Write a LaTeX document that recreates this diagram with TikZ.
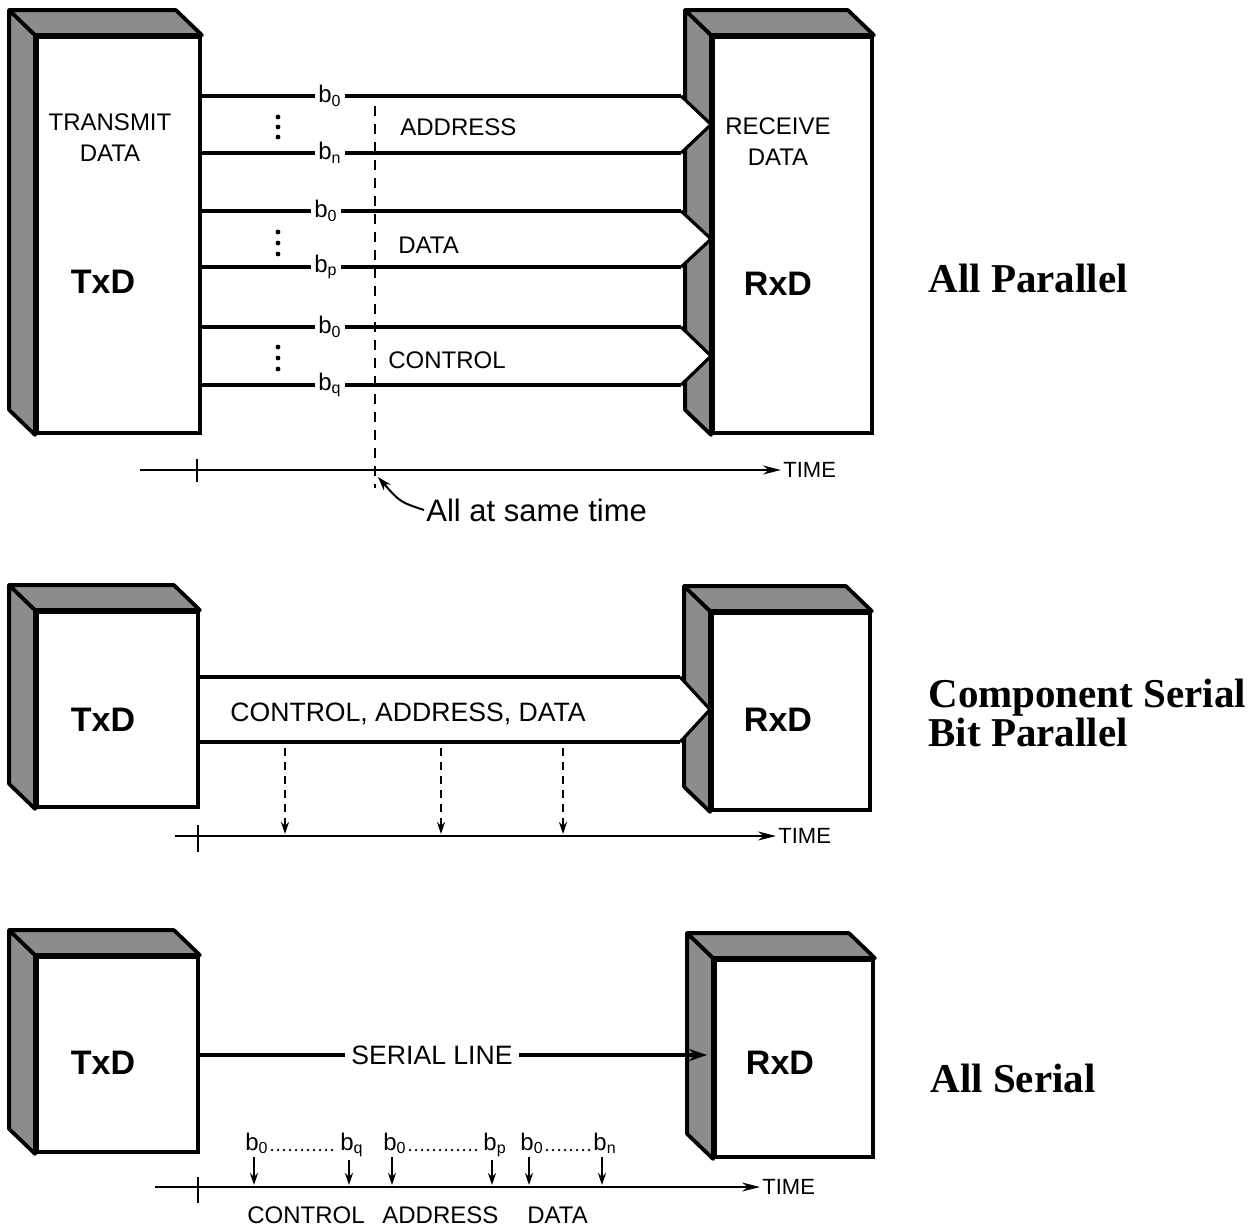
\documentclass[tikz,border=0pt]{standalone}
\usepackage{fontspec}
\setmainfont{Liberation Serif}
\setsansfont{Liberation Sans}
\usetikzlibrary{calc,arrows.meta}
\newcommand\threedfaces[1]{%
  \filldraw[face3d] ($(#1.north west)+(-26,-25)$) -- ($(#1.south west)+(-26,-25)$) -- (#1.south west) -- (#1.north west) -- cycle;
  \filldraw[face3d] ($(#1.north west)+(-26,-25)$) -- ($(#1.north east)+(-26,-25)$) -- (#1.north east) -- (#1.north west) -- cycle;
}
\newcommand\hollowhead[3]{%
  \fill[white] ($(#1.west |- #2)+(-30,0)$) -- ($(#1.west |- #2)!0.5!(#1.west |- #3)$) -- ($(#1.west |- #3)+(-30,0)$) -- cycle;
  \draw[wire, line join=miter] ($(#1.west |- #2)+(-30,0)$) -- ($(#1.west |- #2)!0.5!(#1.west |- #3)$) -- ($(#1.west |- #3)+(-30,0)$);
}
\begin{document}
\begin{tikzpicture}[x=0.5pt,y=-0.5pt,
  front/.style={rectangle, draw=black, line width=1.9pt, fill=white, inner sep=0pt},
  face3d/.style={draw=black, line width=1.9pt, fill=black!45, line join=round},
  wire/.style={line width=1.6pt},
  hand/.style={font=\sffamily\fontsize{12}{15.5}\selectfont, inner sep=1pt, align=center},
  bit/.style={font=\sffamily\fontsize{12}{14}\selectfont, inner sep=1.5pt},
  boxname/.style={font=\sffamily\bfseries\fontsize{17}{20}\selectfont},
  timelbl/.style={font=\sffamily\fontsize{11}{13}\selectfont, anchor=west, inner sep=1pt},
  timeline/.style={line width=1pt, -{Stealth[length=9pt,width=4.5pt]}},
  tick/.style={line width=1pt},
  marker/.style={line width=0.9pt, dash pattern=on 5pt off 4pt},
  dasharr/.style={line width=0.9pt, dash pattern=on 4pt off 3pt, -{Stealth[length=6pt,width=4pt]}},
  bitarr/.style={line width=1pt, -{Stealth[length=6pt,width=4pt]}},
  dotrun/.style={line width=1.3pt, line cap=round, dash pattern=on 0pt off 3pt},
  title/.style={font=\rmfamily\bfseries\fontsize{20.5}{18.5}\selectfont, anchor=west, align=left, inner sep=0pt},
]
\fill[white] (0,0) rectangle (1260,1227);
\useasboundingbox (0,0) rectangle (1260,1227);

% ---------------- All parallel ----------------
\node[front, minimum width=81.5pt, minimum height=198pt] (tx1) at (118.5,235) {};
\node[front, minimum width=79.5pt, minimum height=198pt] (rx1) at (792.5,235) {};
\threedfaces{tx1}
\threedfaces{rx1}
\node[hand] (txt1) at (110,137.5) {TRANSMIT\\DATA};
\node[boxname] (txn1) at (103,282) {TxD};
\node[hand] (rxt1) at (778,142) {RECEIVE\\DATA};
\node[boxname] (rxn1) at (778,284) {RxD};

\node[bit] (L1) at (330,96) {b\textsubscript{0}};
\node[bit] (L2) at (330,153) {b\textsubscript{n}};
\node[bit] (L3) at (326,211) {b\textsubscript{0}};
\node[bit] (L4) at (326,267) {b\textsubscript{p}};
\node[bit] (L5) at (330,327) {b\textsubscript{0}};
\node[bit] (L6) at (330,385) {b\textsubscript{q}};
\foreach \L in {L1,L2,L3,L4,L5,L6}{
  \draw[wire] (tx1.east |- \L) -- (\L.west);
  \draw[wire] (\L.east) -- ($(rx1.west |- \L)+(-30,0)$);
}
\hollowhead{rx1}{L1}{L2}
\hollowhead{rx1}{L3}{L4}
\hollowhead{rx1}{L5}{L6}
\foreach \y in {117,127,137,232,243,254,347,358,369} \fill (278,\y) circle (1.2pt);
\coordinate (mk1) at (375,106);
\coordinate (mk2) at (375,488);
\draw[marker] (mk1) -- (mk2);
\node[hand, anchor=west] (adr) at (398,127) {ADDRESS};
\node[hand, anchor=west] (dat) at (396,245) {DATA};
\node[hand, anchor=west] (ctl) at (386,360) {CONTROL};

\node[timelbl] (time1) at (781,470) {TIME};
\coordinate (t1s) at (140,470);
\draw[timeline] (t1s) -- (time1.west);
\coordinate (k1) at (197,470);
\draw[tick] ($(k1)+(0,-11)$) -- ($(k1)+(0,12)$);
\node[font=\sffamily\fontsize{15.5}{18}\selectfont, anchor=west, inner sep=1pt] (same) at (424,510) {All at same time};
\coordinate (same1) at (378,477);
\draw[line width=1pt, -{Stealth[length=7pt,width=4.5pt]}] (same.west) .. controls (400,502) .. (same1);
\node[title] (ttl1) at (928,278) {All Parallel};

% ---------------- Component serial, bit parallel ----------------
\node[front, minimum width=80.5pt, minimum height=97.5pt] (tx2) at (117.5,709.5) {};
\node[front, minimum width=79pt, minimum height=98.5pt] (rx2) at (791,711.5) {};
\threedfaces{tx2}
\threedfaces{rx2}
\node[boxname] (txn2) at (103,720) {TxD};
\node[boxname] (rxn2) at (778,720) {RxD};
\coordinate (ma) at (400,677);
\coordinate (mb) at (400,742);
\draw[wire] (tx2.east |- ma) -- ($(rx2.west |- ma)+(-30,0)$);
\draw[wire] (tx2.east |- mb) -- ($(rx2.west |- mb)+(-30,0)$);
\hollowhead{rx2}{ma}{mb}
\node[font=\sffamily\fontsize{13.3}{16}\selectfont, inner sep=1pt] (cad) at (408,714) {CONTROL, ADDRESS, DATA};
\coordinate (t2s) at (175,836);
\node[timelbl] (time2) at (776,836) {TIME};
\draw[timeline] (t2s) -- (time2.west);
\coordinate (k2) at (198,836);
\draw[tick] ($(k2)+(0,-11)$) -- ($(k2)+(0,16)$);
\coordinate (d1) at (285,834);
\coordinate (d2) at (441,834);
\coordinate (d3) at (563,834);
\foreach \d in {d1,d2,d3} \draw[dasharr] ($(\d |- mb)+(0,6)$) -- (\d);
\node[title] (ttl2) at (928,713) {Component Serial\\Bit Parallel};

% ---------------- All serial ----------------
\node[front, minimum width=80.5pt, minimum height=97.5pt] (tx3) at (117.5,1054.5) {};
\node[front, minimum width=79pt, minimum height=98.5pt] (rx3) at (794,1058.5) {};
\threedfaces{tx3}
\threedfaces{rx3}
\node[boxname] (txn3) at (103,1063) {TxD};
\node[boxname] (rxn3) at (780,1063) {RxD};
\node[font=\sffamily\fontsize{13.3}{16}\selectfont, fill=white, inner sep=3pt] (sl) at (432,1055) {SERIAL LINE};
\draw[wire] (tx3.east |- sl) -- (sl.west);
\draw[wire, -{Stealth[length=9pt,width=6pt]}] (sl.east) -- ($(rx3.west |- sl)+(-6,0)$);

\node[bit, anchor=base west] (c0) at (242,1150) {b\textsubscript{0}};
\node[bit, anchor=base west] (cq) at (337,1150) {b\textsubscript{q}};
\node[bit, anchor=base west] (a0) at (380,1150) {b\textsubscript{0}};
\node[bit, anchor=base west] (ap) at (480,1150) {b\textsubscript{p}};
\node[bit, anchor=base west] (e0) at (517,1150) {b\textsubscript{0}};
\node[bit, anchor=base west] (en) at (590,1150) {b\textsubscript{n}};
\draw[dotrun] (c0.base east) -- (cq.base west);
\draw[dotrun] (a0.base east) -- (ap.base west);
\draw[dotrun] (e0.base east) -- (en.base west);
\coordinate (p1) at (254,1185);
\coordinate (p2) at (349,1185);
\coordinate (p3) at (392,1185);
\coordinate (p4) at (492,1185);
\coordinate (p5) at (529,1185);
\coordinate (p6) at (602,1185);
\draw[bitarr] (p1 |- c0.south) -- (p1);
\draw[bitarr] (p2 |- cq.south) -- (p2);
\draw[bitarr] (p3 |- a0.south) -- (p3);
\draw[bitarr] (p4 |- ap.south) -- (p4);
\draw[bitarr] (p5 |- e0.south) -- (p5);
\draw[bitarr] (p6 |- en.south) -- (p6);
\coordinate (t3s) at (155,1187);
\node[timelbl] (time3) at (760,1187) {TIME};
\draw[timeline] (t3s) -- (time3.west);
\coordinate (k3) at (198,1187);
\draw[tick] ($(k3)+(0,-10)$) -- ($(k3)+(0,16)$);
\node[hand, anchor=west] (bc) at (245,1215) {CONTROL};
\node[hand, anchor=west] (ba) at (380,1215) {ADDRESS};
\node[hand, anchor=west] (bd) at (525,1215) {DATA};
\node[title] (ttl3) at (930,1078) {All Serial};
\end{tikzpicture}
\end{document}
